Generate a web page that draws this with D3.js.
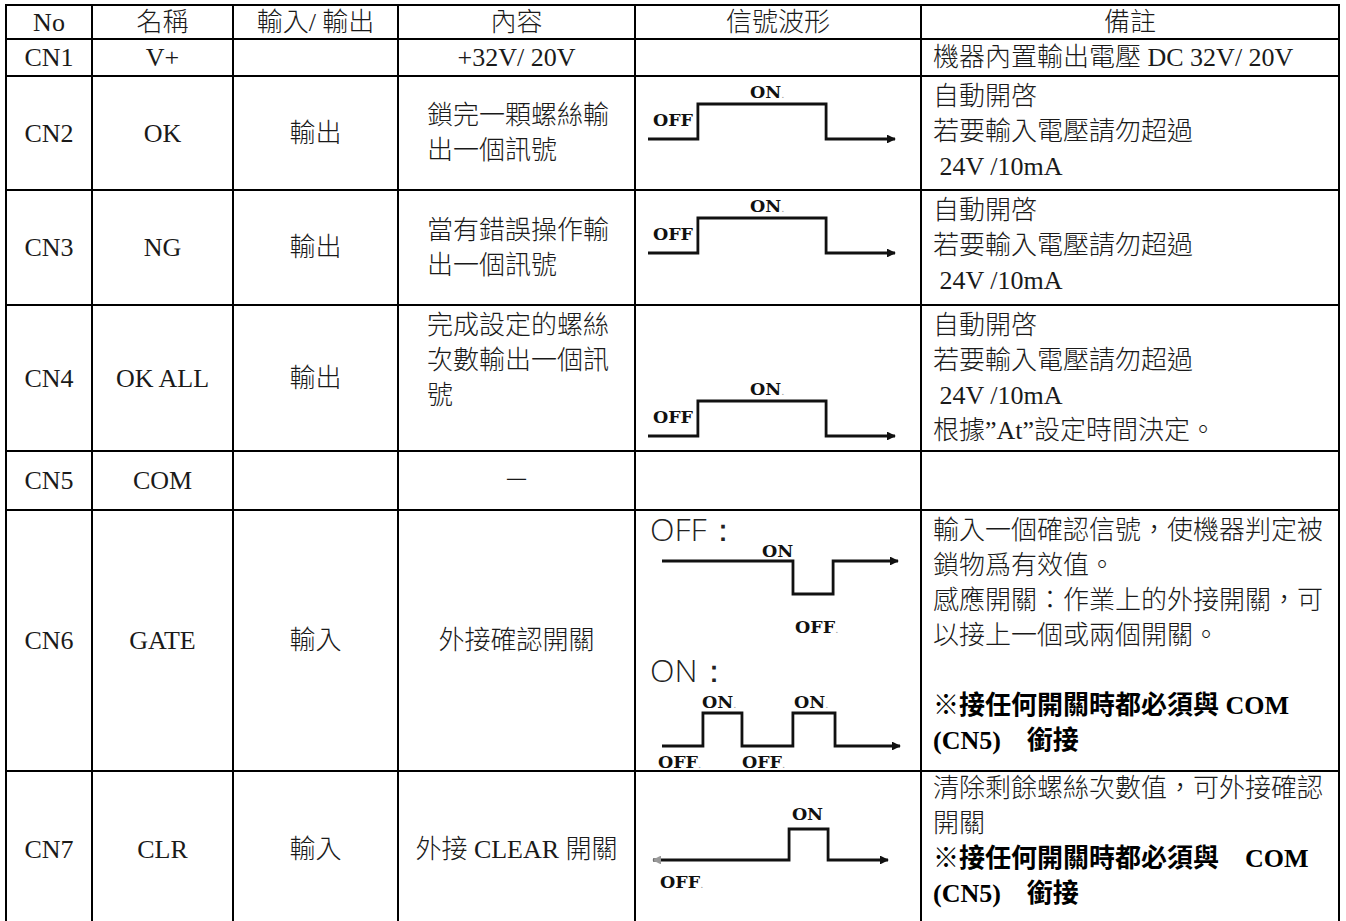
<!DOCTYPE html>
<html><head><meta charset="utf-8">
<script src="https://cdn.jsdelivr.net/npm/d3@7"></script>
<style>
html,body{margin:0;padding:0;background:#fff;}
svg{display:block;}
</style></head>
<body>
<svg id="chart" width="1346" height="921"></svg>
<script>
// ---------------- data ----------------
const headers = ["No","名稱","輸入/ 輸出","內容","信號波形","備註"];
const connectorIds = ["CN1","CN2","CN3","CN4","CN5","CN6","CN7"];
const names = ["V+","OK","NG","OK ALL","COM","GATE","CLR"];
const directions = ["","輸出","輸出","輸出","","輸入","輸入"];
const contents = [
  ["+32V/ 20V"],
  ["鎖完一顆螺絲輸","出一個訊號"],
  ["當有錯誤操作輸","出一個訊號"],
  ["完成設定的螺絲","次數輸出一個訊","號"],
  ["－"],
  ["外接確認開關"],
  ["外接 CLEAR 開關"]
];
const remarkLines = [
  ["機器內置輸出電壓 DC 32V/ 20V"],
  ["自動開啓","若要輸入電壓請勿超過"," 24V /10mA"],
  ["自動開啓","若要輸入電壓請勿超過"," 24V /10mA"],
  ["自動開啓","若要輸入電壓請勿超過"," 24V /10mA","根據”At”設定時間決定。"],
  [],
  ["輸入一個確認信號，使機器判定被","鎖物爲有效值。","感應開關：作業上的外接開關，可","以接上一個或兩個開關。","","※接任何開關時都必須與 COM","(CN5)　銜接"],
  ["清除剩餘螺絲次數值，可外接確認","開關","※接任何開關時都必須與　COM","(CN5)　銜接"]
];
const remarkEmphasis = [[],[],[],[],[],[5,6],[2,3]];

// waveform data: time (0-100) and logic level (1 = ON, 0 = OFF)
const pulseTimes  = [0, 20.2, 72.1, 100];
const pulseLevels = [0, 1, 0, 0];
const gateOffTimes  = [0, 55.5, 72.5, 100];
const gateOffLevels = [1, 0, 1, 1];
const gateOnTimes  = [0, 17.2, 33.6, 55.0, 72.7, 100];
const gateOnLevels = [0, 1, 0, 1, 0, 0];
const clearTimes  = [0, 57.9, 74.5, 100];
const clearLevels = [0, 1, 0, 0];

const pulseLabels   = [{text:"OFF", t:2.0, v:0.37, dot:false}, {text:"ON", t:41.3, v:1.17, dot:true}];
const gateOffLabels = [{text:"ON", t:42.4, v:1.12, dot:false}, {text:"OFF", t:56.4, v:-1.18, dot:true}];
const gateOnLabels  = [{text:"ON", t:16.8, v:1.15, dot:true}, {text:"ON", t:55.5, v:1.15, dot:true},
                       {text:"OFF", t:-1.7, v:-0.67, dot:true}, {text:"OFF", t:33.6, v:-0.67, dot:true}];
const clearLabels   = [{text:"ON", t:59.1, v:1.29, dot:false}, {text:"OFF", t:3.0, v:-0.9, dot:true}];
const gateModeLabels = ["OFF：","ON："];

// ---------------- layout ----------------
const colEdges = [6, 92, 233, 398, 635, 921, 1339];
const rowEdges = [5, 39, 76, 190, 305, 451, 510, 771, 928];
const FONT = "'Liberation Serif','Times New Roman','Noto Sans CJK TC',serif";
const FS = 26, LH = 35;

const svg = d3.select("#chart");
const defs = svg.append("defs");
function marker(id, color, orient){
  defs.append("marker").attr("id", id).attr("viewBox","0 0 10 10")
    .attr("refX", 9).attr("refY", 5).attr("markerWidth", 3.2).attr("markerHeight", 3.2)
    .attr("markerUnits","strokeWidth").attr("orient", orient)
    .append("path").attr("d","M0,0 L10,5 L0,10 z").attr("fill", color);
}
marker("arrEnd", "#111", "auto");
marker("arrStart", "#999", "auto-start-reverse");

const colX = d3.scaleOrdinal().domain(d3.range(7)).range(colEdges);
const rowY = d3.scaleOrdinal().domain(d3.range(9)).range(rowEdges);
const colCenter = i => (colX(i) + colX(i+1)) / 2;
const rowCenter = i => (rowY(i) + rowY(i+1)) / 2;

const grid = svg.append("g").attr("stroke","#000").attr("stroke-width",2.2).attr("shape-rendering","crispEdges");
grid.selectAll("line.h").data(rowEdges).join("line").attr("class","h")
  .attr("x1", colEdges[0]-1).attr("x2", colEdges[6]+1).attr("y1", d=>d).attr("y2", d=>d);
grid.selectAll("line.v").data(colEdges).join("line").attr("class","v")
  .attr("x1", d=>d).attr("x2", d=>d).attr("y1", rowEdges[0]).attr("y2", rowEdges[8]);

const txt = svg.append("g").attr("font-family", FONT).attr("font-size", FS).attr("fill","#1a1a1a");
function addText(x, y, s, anchor, bold){
  txt.append("text").attr("x", x).attr("y", y).attr("dominant-baseline","central")
    .attr("text-anchor", anchor || "middle").attr("font-weight", bold ? "bold" : 300)
    .attr("fill", bold ? "#000" : null)
    .attr("xml:space","preserve").style("white-space","pre").text(s);
}

// header
headers.forEach((h,i) => addText(colCenter(i), rowCenter(0), h));

// body
connectorIds.forEach((id, r) => {
  const row = r + 1;
  const cy = rowCenter(row), top = rowY(row);
  addText(colCenter(0), cy, id);
  addText(colCenter(1), cy, names[r]);
  if (directions[r]) addText(colCenter(2), cy, directions[r]);
  const c = contents[r];
  if (c.length === 1) addText(colCenter(3), cy, c[0]);
  else if (r === 3) c.forEach((s,k) => addText(colX(3) + 29, top + 20 + k*LH, s, "start"));
  else c.forEach((s,k) => addText(colX(3) + 29, cy + (k - (c.length-1)/2)*LH, s, "start"));
  const rm = remarkLines[r];
  if (rm.length === 1) addText(colX(5) + 12, cy, rm[0], "start");
  else rm.forEach((s,k) => addText(colX(5) + 12, top + (r === 6 ? 17 : 20) + k*LH, s, "start", remarkEmphasis[r].includes(k)));
});

// waveforms
const lblFont = "'DejaVu Serif',serif";
function drawWave(frame, times, levels, labels, startArrow){
  const xs = d3.scaleLinear().domain([0,100]).range([frame.x0, frame.x1]);
  const ys = d3.scaleLinear().domain([0,1]).range([frame.yLow, frame.yHigh]);
  const pts = times.map((t,i) => [t, levels[i]]);
  const line = d3.line().x(d=>xs(d[0])).y(d=>ys(d[1])).curve(d3.curveStepAfter);
  const g = svg.append("g");
  g.append("path").attr("d", line(pts)).attr("fill","none").attr("stroke","#111")
    .attr("stroke-width",2.8).attr("stroke-linejoin","miter")
    .attr("marker-end","url(#arrEnd)")
    .attr("marker-start", startArrow ? "url(#arrStart)" : null);
  labels.forEach(l => {
    const t = g.append("text").attr("x", xs(l.t)).attr("y", ys(l.v))
      .attr("font-family", lblFont).attr("font-weight","bold").attr("font-size",17.5).attr("fill","#111");
    t.append("tspan").text(l.text);
    if (l.dot) t.append("tspan").attr("font-weight","normal").attr("font-size",10).attr("fill","#999").text(".");
  });
}
const pulseRows = [1,2,3];
const pulseOffsets = {1:{low:63, high:28}, 2:{low:63, high:28}, 3:{low:131, high:96}};
pulseRows.forEach(r => {
  const top = rowY(r+1);
  drawWave({x0:648, x1:895, yLow: top + pulseOffsets[r].low, yHigh: top + pulseOffsets[r].high},
           pulseTimes, pulseLevels, pulseLabels, false);
});
// GATE
const gTop = rowY(6);
svg.append("g").attr("font-family","'Open Sans','Liberation Sans',sans-serif").attr("font-weight",300)
  .attr("font-size",32).attr("fill","#222")
  .selectAll("text").data(gateModeLabels).join("text")
  .attr("x", 650).attr("y", (d,i) => gTop + 31 + i*141).text(d => d);
drawWave({x0:662, x1:898, yLow: gTop + 84, yHigh: gTop + 51}, gateOffTimes, gateOffLevels, gateOffLabels, false);
drawWave({x0:662, x1:900, yLow: gTop + 236, yHigh: gTop + 203}, gateOnTimes, gateOnLevels, gateOnLabels, false);
// CLR
const cTop = rowY(7);
drawWave({x0:653, x1:888, yLow: cTop + 89, yHigh: cTop + 58}, clearTimes, clearLevels, clearLabels, true);
</script>
</body></html>
